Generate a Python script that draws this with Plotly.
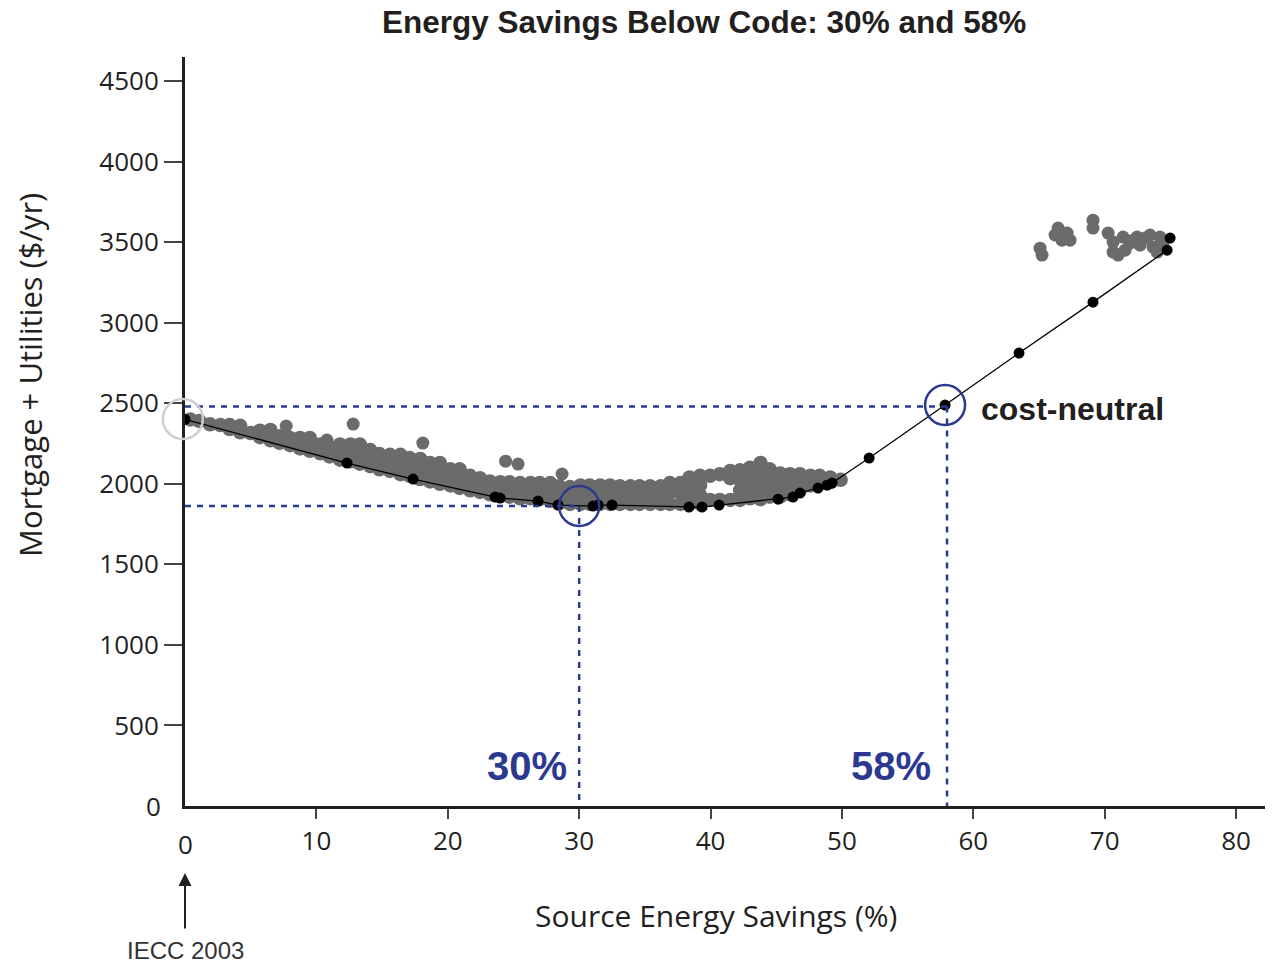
import plotly.graph_objects as go

# ---------------- data ----------------
title_text = "Energy Savings Below Code: 30% and 58%"
x_title = "Source Energy Savings (%)"
y_title = "Mortgage + Utilities ($/yr)"
x_ticks = [10, 20, 30, 40, 50, 60, 70, 80]
y_ticks = [500, 1000, 1500, 2000, 2500, 3000, 3500, 4000, 4500]

# grey cloud of all simulated options, by column (x) with the y values in that column
cloud_x = [0.4, 1.1, 1.9, 2.7, 3.4, 4.2, 5.0, 5.7, 6.5, 7.2, 8.0, 8.75, 9.5, 10.3, 11.0,
           11.8, 12.6, 13.3, 14.1, 14.8, 15.6, 16.4, 17.1, 17.9, 18.65, 19.4, 20.2, 20.9,
           21.7, 22.45, 23.2, 24.0, 24.7, 25.5, 26.3, 27.0, 27.8, 28.5, 29.3, 30.1, 30.8,
           31.6, 32.35, 33.1, 33.9, 34.6, 35.4, 36.2, 36.9, 37.7, 38.4, 39.2, 39.96, 40.7,
           41.5, 42.25, 43.0, 43.8, 44.5, 45.3, 46.05, 46.8, 47.6, 48.3, 49.1, 49.9]
cloud_y = [[2400], [2390], [2370], [2365], [2365, 2340], [2360, 2320], [2315],
           [2330, 2290], [2335, 2270], [2295, 2255], [2285, 2240], [2285, 2220],
           [2285, 2240, 2205], [2245, 2190], [2230, 2170], [2245, 2195, 2150],
           [2245, 2195, 2140], [2245, 2185, 2125], [2210, 2160, 2110], [2185, 2135, 2090],
           [2180, 2130, 2080], [2180, 2115, 2060], [2160, 2105, 2050], [2155, 2090, 2030],
           [2130, 2065, 2015], [2130, 2060, 2000], [2090, 2040, 1990], [2090, 2035, 1975],
           [2050, 2005, 1960], [2035, 1990, 1950], [2015, 1975, 1935], [2010, 1960, 1925],
           [2010, 1960, 1920], [2005, 1955, 1910], [2005, 1955, 1910], [2005, 1955, 1905],
           [2005, 1950, 1895], [1985, 1930, 1880], [1980, 1925, 1875], [1990, 1930, 1875],
           [1990, 1930, 1875], [1990, 1930, 1875], [1990, 1930, 1875], [1985, 1930, 1875],
           [1985, 1930, 1875], [1985, 1930, 1875], [1985, 1930, 1875], [1985, 1930, 1875],
           [2005, 1945, 1875], [2005, 1945, 1875], [2040, 1985, 1930, 1875],
           [2050, 1990, 1930, 1875], [2050, 1900], [2060, 1900], [2080, 2035, 1900],
           [2085, 2025, 1960, 1900], [2100, 2035, 1975, 1910],
           [2130, 2075, 2020, 1960, 1905], [2090, 2030, 1970, 1920],
           [2065, 2010, 1960, 1920], [2060, 1995, 1935], [2060, 2005, 1960],
           [2050, 1990], [2050, 2000], [2040, 2010], [2025]]

# isolated grey points above the cloud
outlier_x = [7.7, 10.8, 12.8, 18.1, 24.4, 25.35, 28.7]
outlier_y = [2359, 2272, 2371, 2253, 2141, 2123, 2061]

# grey cluster at high savings
high_x = [65.08, 65.23, 66.45, 66.6, 67.14, 67.36, 66.75, 66.22, 69.11, 69.11, 70.26,
          70.64, 70.64, 71.02, 71.4, 71.93, 72.46, 72.69, 73.45, 73.68, 74.21, 73.99,
          74.44, 71.55, 73.07, 72.16]
high_y = [3463, 3420, 3588, 3557, 3557, 3513, 3513, 3545, 3637, 3588, 3557,
          3501, 3439, 3420, 3532, 3495, 3532, 3482, 3545, 3470, 3532, 3439,
          3495, 3451, 3526, 3513]

# least-cost frontier (black points)
front_x = [0.0, 12.33, 17.36, 23.6, 23.98, 26.87, 28.39, 31.06, 31.44, 32.5, 38.36, 39.35,
           40.65, 45.14, 46.28, 46.81, 48.18, 48.87, 49.25, 52.07, 57.85, 63.48, 69.11,
           74.75, 74.98]
front_y = [2400, 2129, 2030, 1918, 1912, 1893, 1868, 1862, 1868, 1868, 1856, 1856,
           1868, 1905, 1918, 1943, 1974, 1992, 2005, 2160, 2489, 2812, 3128,
           3451, 3526]

# highlighted optimum and cost-neutral points
opt_x, opt_y = 30, 1862
neutral_x, neutral_y = 58, 2480

# ---------------- styling ----------------
BLUE = "#2b3990"
INK = "#231f20"
GREY = "#6b6b6b"

gx, gy = [], []
for xv, ys in zip(cloud_x, cloud_y):
    for yv in ys:
        gx.append(xv)
        gy.append(yv)

fig = go.Figure()
fig.add_trace(go.Scatter(x=gx, y=gy, mode="markers",
                         marker=dict(size=14.5, color=GREY, line=dict(width=0)),
                         hoverinfo="x+y", showlegend=False))
fig.add_trace(go.Scatter(x=outlier_x + high_x, y=outlier_y + high_y, mode="markers",
                         marker=dict(size=13, color=GREY, line=dict(width=0)),
                         hoverinfo="x+y", showlegend=False))
fig.add_trace(go.Scatter(x=front_x[:-1], y=front_y[:-1], mode="lines",
                         line=dict(color="#000000", width=1.3),
                         hoverinfo="skip", showlegend=False))
fig.add_trace(go.Scatter(x=front_x, y=front_y, mode="markers",
                         marker=dict(size=11, color="#000000", line=dict(width=0)),
                         showlegend=False))

dash = dict(color=BLUE, width=2.5, dash="6px,6px")
shapes = [
    dict(type="line", xref="x", yref="y", x0=0, x1=opt_x, y0=opt_y, y1=opt_y, line=dash),
    dict(type="line", xref="x", yref="y", x0=opt_x, x1=opt_x, y0=opt_y, y1=0, line=dash),
    dict(type="line", xref="x", yref="y", x0=0, x1=neutral_x, y0=neutral_y, y1=neutral_y, line=dash),
    dict(type="line", xref="x", yref="y", x0=neutral_x, x1=neutral_x, y0=neutral_y, y1=0, line=dash),
    dict(type="circle", xref="x", yref="y", xsizemode="pixel", ysizemode="pixel",
         xanchor=opt_x, yanchor=opt_y, x0=-20, x1=20, y0=-20, y1=20,
         line=dict(color=BLUE, width=2.5)),
    dict(type="circle", xref="x", yref="y", xsizemode="pixel", ysizemode="pixel",
         xanchor=57.85, yanchor=2489, x0=-20, x1=20, y0=-20, y1=20,
         line=dict(color=BLUE, width=2.5)),
    dict(type="circle", xref="paper", yref="paper", xsizemode="pixel", ysizemode="pixel",
         xanchor=-0.002, yanchor=0.5167, x0=-20, x1=20, y0=-20, y1=20,
         line=dict(color="#cfcfcf", width=2.5)),
]

BOLD = "Liberation Sans, Arial, sans-serif"
annotations = [
    dict(text=title_text, xref="paper", yref="paper", x=(704 - 185) / 1080, y=1 + 35 / 749,
         xanchor="center", yanchor="middle", showarrow=False,
         font=dict(family=BOLD, size=31.5, color=INK, weight="bold")),
    dict(text="cost-neutral", xref="x", yref="y", x=60.4, y=2464, xanchor="left",
         yanchor="middle", showarrow=False,
         font=dict(family=BOLD, size=32, color=INK, weight="bold")),
    dict(text="30%", xref="x", yref="y", x=29.2, y=250, xanchor="right", yanchor="middle",
         showarrow=False, font=dict(family=BOLD, size=40, color=BLUE, weight="bold")),
    dict(text="58%", xref="x", yref="y", x=56.95, y=250, xanchor="right", yanchor="middle",
         showarrow=False, font=dict(family=BOLD, size=40, color=BLUE, weight="bold")),
    dict(text="0", xref="paper", yref="y", x=-22 / 1080, y=0, xanchor="right", yanchor="middle",
         showarrow=False, font=dict(family="Open Sans, sans-serif", size=26, color=INK)),
    dict(text="0", xref="x", yref="paper", x=0, y=-(844 - 806) / 749, xanchor="center",
         yanchor="middle", showarrow=False,
         font=dict(family="Open Sans, sans-serif", size=26, color=INK)),
    dict(text=x_title, xref="paper", yref="paper", x=(716 - 185) / 1080, y=-(915 - 806) / 749,
         xanchor="center", yanchor="middle", showarrow=False,
         font=dict(family="Open Sans, sans-serif", size=30, color=INK)),
    dict(text=y_title, xref="paper", yref="paper", x=(30 - 185) / 1080, y=(806 - 375) / 749,
         xanchor="center", yanchor="middle", textangle=-90, showarrow=False,
         font=dict(family="Open Sans, sans-serif", size=31, color=INK)),
    dict(text="IECC 2003", xref="x", yref="paper", x=0, y=-(950 - 806) / 749,
         xanchor="center", yanchor="middle", showarrow=False,
         font=dict(family=BOLD, size=24, color="#333333")),
    dict(text="", xref="x", yref="paper", x=0, y=-(873 - 806) / 749,
         showarrow=True, arrowhead=2, arrowsize=1.3, arrowwidth=2, arrowcolor=INK,
         ax=0, ay=57, standoff=0),
]

fig.update_layout(
    width=1272, height=963,
    margin=dict(l=185, r=7, t=57, b=157),
    paper_bgcolor="white", plot_bgcolor="white",
    shapes=shapes, annotations=annotations,
    showlegend=False,
    font=dict(family="Open Sans, sans-serif", color=INK),
)
fig.update_xaxes(range=[0, 82.2], tickvals=x_ticks, ticktext=[str(v) for v in x_ticks],
                 showline=True, linewidth=3, linecolor=INK, ticks="outside", ticklen=10,
                 tickwidth=2, tickcolor="#444444", showgrid=False, zeroline=False,
                 tickfont=dict(family="Open Sans, sans-serif", size=26, color=INK))
fig.update_yaxes(range=[0, 4650], tickvals=y_ticks, ticktext=[str(v) for v in y_ticks],
                 showline=True, linewidth=3, linecolor=INK, ticks="outside", ticklen=18,
                 tickwidth=2, tickcolor="#444444", showgrid=False, zeroline=False,
                 tickfont=dict(family="Open Sans, sans-serif", size=26, color=INK))

fig.write_html("out.html",
               config={"displayModeBar": False},
               post_script="document.body.style.margin='0';document.body.style.overflow='hidden';")
